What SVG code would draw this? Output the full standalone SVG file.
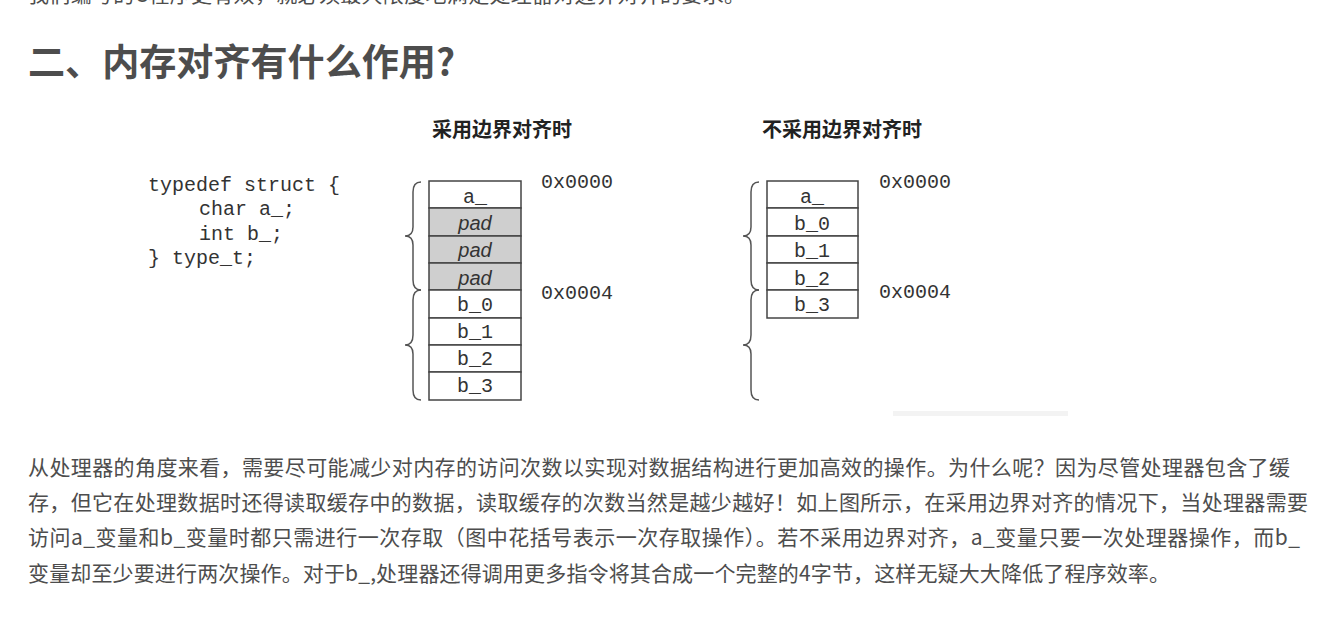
<svg xmlns="http://www.w3.org/2000/svg" width="1333" height="624" viewBox="0 0 1333 624">
<style>
.body{font-family:"Noto Sans CJK SC","Noto Sans",sans-serif;font-size:21px;fill:#4d4d4d}
.title{font-family:"Noto Sans CJK SC",sans-serif;font-size:37px;font-weight:bold;fill:#4d4d4d}
.hdr{font-family:"Noto Sans CJK SC",sans-serif;font-size:20px;font-weight:bold;fill:#222}
.mono{font-family:"Liberation Mono",monospace;font-size:20px;fill:#333}
.cell{fill:#fff;stroke:#444;stroke-width:1.5}
.padc{fill:#cfcfcf;stroke:#444;stroke-width:1.5}
.ct{font-family:"Liberation Mono",monospace;font-size:20px;fill:#333;text-anchor:middle}
.pt{font-family:"Liberation Sans",sans-serif;font-size:20px;font-style:italic;fill:#333;text-anchor:middle}
.brace{fill:none;stroke:#555;stroke-width:1.5}
</style>
<rect width="1333" height="624" fill="#fff"/>
<text class="body" x="28" y="2" textLength="717" lengthAdjust="spacing">我们编写的C程序更有效，就必须最大限度地满足处理器对边界对齐的要求。</text>
<text class="title" x="28" y="76" textLength="427" lengthAdjust="spacingAndGlyphs">二、内存对齐有什么作用?</text>

<g id="code">
<text class="mono" x="148" y="191" xml:space="preserve">typedef struct {</text>
<text class="mono" x="199" y="215">char a_;</text>
<text class="mono" x="199" y="240">int b_;</text>
<text class="mono" x="148" y="264">} type_t;</text>
</g>

<g id="aligned">
<text class="hdr" x="432" y="137">采用边界对齐时</text>
<rect class="cell" x="429" y="181" width="92" height="27"/>
<rect class="padc" x="429" y="208" width="92" height="28"/>
<rect class="padc" x="429" y="236" width="92" height="27"/>
<rect class="padc" x="429" y="263" width="92" height="27"/>
<rect class="cell" x="429" y="290" width="92" height="28"/>
<rect class="cell" x="429" y="318" width="92" height="27"/>
<rect class="cell" x="429" y="345" width="92" height="27"/>
<rect class="cell" x="429" y="372" width="92" height="28"/>
<text class="ct" x="475" y="203">a_</text>
<text class="pt" x="475" y="230">pad</text>
<text class="pt" x="475" y="257">pad</text>
<text class="pt" x="475" y="285">pad</text>
<text class="ct" x="475" y="311">b_0</text>
<text class="ct" x="475" y="338">b_1</text>
<text class="ct" x="475" y="365">b_2</text>
<text class="ct" x="475" y="392">b_3</text>
<text class="mono" x="541" y="188">0x0000</text>
<text class="mono" x="541" y="299">0x0004</text>
</g>

<g id="unaligned">
<text class="hdr" x="762" y="137">不采用边界对齐时</text>
<rect class="cell" x="767" y="181" width="91" height="27"/>
<rect class="cell" x="767" y="208" width="91" height="28"/>
<rect class="cell" x="767" y="236" width="91" height="27"/>
<rect class="cell" x="767" y="263" width="91" height="27"/>
<rect class="cell" x="767" y="290" width="91" height="28"/>
<text class="ct" x="812" y="203">a_</text>
<text class="ct" x="812" y="230">b_0</text>
<text class="ct" x="812" y="257">b_1</text>
<text class="ct" x="812" y="285">b_2</text>
<text class="ct" x="812" y="311">b_3</text>
<text class="mono" x="879" y="188">0x0000</text>
<text class="mono" x="879" y="298">0x0004</text>
</g>

<g id="connectors">
<path class="brace" d="M421 182 Q413 182 413 192 L413 227 Q413 236 405 236 Q413 236 413 245 L413 280 Q413 290 421 290"/>
<path class="brace" d="M421 290 Q413 290 413 300 L413 335 Q413 345 405 345 Q413 345 413 354 L413 390 Q413 400 421 400"/>
<path class="brace" d="M759 182 Q751 182 751 192 L751 227 Q751 236 743 236 Q751 236 751 245 L751 280 Q751 290 759 290"/>
<path class="brace" d="M759 290 Q751 290 751 300 L751 335 Q751 345 743 345 Q751 345 751 354 L751 390 Q751 400 759 400"/>
</g>
<rect x="893" y="411" width="175" height="5" fill="#f3f3f3"/>

<text class="body" x="28" y="475" textLength="1262" lengthAdjust="spacing">从处理器的角度来看，需要尽可能减少对内存的访问次数以实现对数据结构进行更加高效的操作。为什么呢？因为尽管处理器包含了缓</text>
<text class="body" x="28" y="510" textLength="1280" lengthAdjust="spacing">存，但它在处理数据时还得读取缓存中的数据，读取缓存的次数当然是越少越好！如上图所示，在采用边界对齐的情况下，当处理器需要</text>
<text class="body" x="28" y="545" textLength="1272" lengthAdjust="spacing">访问a_变量和b_变量时都只需进行一次存取（图中花括号表示一次存取操作）。若不采用边界对齐，a_变量只要一次处理器操作，而b_</text>
<text class="body" x="28" y="581" textLength="1142" lengthAdjust="spacing">变量却至少要进行两次操作。对于b_,处理器还得调用更多指令将其合成一个完整的4字节，这样无疑大大降低了程序效率。</text>
</svg>
